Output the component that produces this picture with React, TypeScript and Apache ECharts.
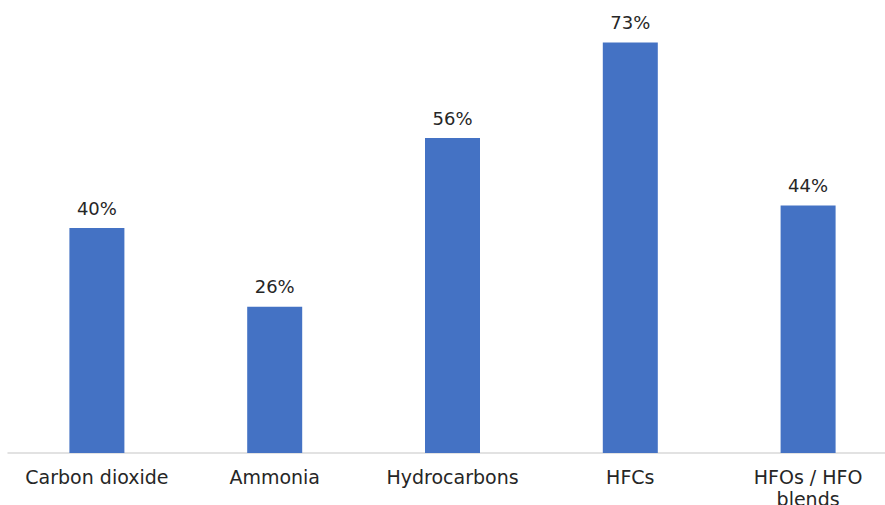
import React, { useEffect, useRef } from "react";
import * as echarts from "echarts";

const categories = ["Carbon dioxide", "Ammonia", "Hydrocarbons", "HFCs", "HFOs / HFO\nblends"];
const values = [40, 26, 56, 73, 44];

export default function App() {
  const ref = useRef<HTMLDivElement>(null);
  useEffect(() => {
    if (!ref.current) return;
    const chart = echarts.init(ref.current, undefined, { renderer: "svg" });
    chart.setOption({
      animation: false,
      backgroundColor: "#ffffff",
      grid: {
        left: 8,
        right: -12,
        top: 3,
        bottom: 52,
        containLabel: false,
        outerBoundsMode: "none",
      },
      xAxis: {
        type: "category",
        data: categories,
        axisLine: { show: true, lineStyle: { color: "#d9d9d9", width: 1.5 } },
        axisTick: { show: false },
        axisLabel: {
          interval: 0,
          margin: 13,
          color: "#262626",
          fontFamily: "DejaVu Sans",
          fontSize: 19,
          lineHeight: 22,
        },
      },
      yAxis: {
        type: "value",
        min: 0,
        max: 80,
        show: false,
        splitLine: { show: false },
      },
      series: [
        {
          type: "bar",
          data: values,
          barWidth: 55,
          itemStyle: { color: "#4472C4" },
          label: {
            show: true,
            position: "top",
            distance: 11,
            formatter: "{c}%",
            color: "#262626",
            fontFamily: "DejaVu Sans",
            fontSize: 18,
          },
        },
      ],
    });
    return () => chart.dispose();
  }, []);
  return (
    <div
      ref={ref}
      style={{ position: "absolute", left: 0, top: 0, width: 885, height: 505 }}
    />
  );
}
